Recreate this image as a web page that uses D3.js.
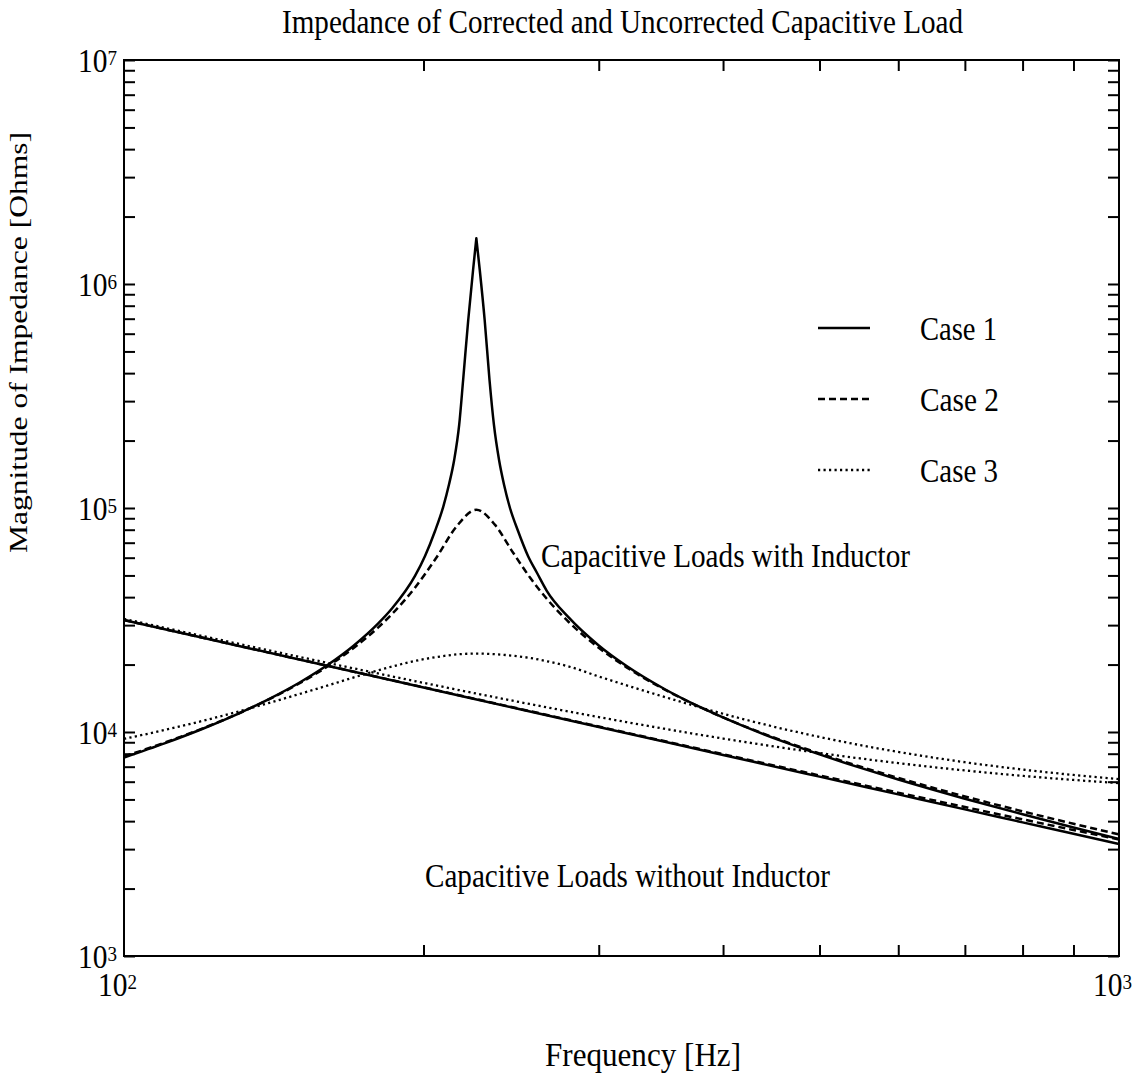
<!DOCTYPE html>
<html>
<head>
<meta charset="utf-8">
<script src="https://cdn.jsdelivr.net/npm/d3@7"></script>
<style>
  html, body { margin: 0; padding: 0; background: #fff; }
  svg { display: block; }
  text { font-family: "Liberation Serif", "Times New Roman", serif; fill: #000; }
</style>
</head>
<body>
<svg id="chart" width="1143" height="1086"></svg>
<script>
// ---------------- data ----------------
const freqCase1With = [100,110,120,130,140,150,160,170,180,186,196.1,200.7,205.4,209.3,212.2,214.7,217.2,219.2,221.8,224.3,226,227.8,230.4,233,235.4,238.2,241,244.3,248.9,254.7,260.1,266,280,300,320,350,380,420,460,500,550,600,700,800,900,1000];
const case1With = [7693,8918,10339,12020,14056,16587,19844,24222,30452,35660,49720,61070,78940,101000,128000,163800,234800,372800,690700,1154800,1600000,1154800,690700,372800,234800,163800,126700,100000,78940,61070,51270,42690,32380,24350,19700,15480,12870,10590,9055,7942,6912,6137,5039,4292,3747,3330];

const freqWith = [100,110,120,130,140,150,160,170,180,186,196,206,216,226,236,246,256,266,280,300,320,350,380,420,460,500,550,600,700,800,900,1000];
const case2With = [7772,8983,10382,12032,14019,16466,19573,23655,29243,33696,43990,59990,83020,98250,84040,63310,48800,39350,30906,23771,19436,15403,12860,10629,9117,8019,7001,6237,5156,4424,3894,3491];
const case3With = [9319,10220,11216,12310,13497,14767,16096,17500,18850,19600,20750,21600,22200,22400,22250,21900,21400,20700,19600,17700,16150,14300,12850,11390,10320,9505,8732,8147,7331,6798,6430,6165];

const freqWithout = [100,120,150,200,250,300,400,500,600,700,800,900,1000];
const case1Without = [31600,26333,21067,15800,12640,10533,7900,6320,5267,4514,3950,3511,3161];
const case2Without = [31616,26352,21091,15832,12680,10580,7963,6398,5361,4624,4074,3651,3315];
const case3Without = [31993,26804,21652,16572,13593,11660,9349,8059,7262,6736,6372,6110,5915];

const seriesNames = ["Case 1", "Case 2", "Case 3"];
const yDecades = [3, 4, 5, 6, 7];
const xDecades = [2, 3];
const titleText = "Impedance of Corrected and Uncorrected Capacitive Load";
const xLabelText = "Frequency [Hz]";
const yLabelText = "Magnitude of Impedance [Ohms]";
const noteWith = "Capacitive Loads with Inductor";
const noteWithout = "Capacitive Loads without Inductor";

// ---------------- layout ----------------
const L = 124, R = 1119, T = 60, B = 956;
const svg = d3.select("#chart");
const x = d3.scaleLog().domain([100, 1000]).range([L, R]);
const y = d3.scaleLog().domain([1e3, 1e7]).range([B, T]);

const styles = [
  { dash: null, width: 2.5 },
  { dash: "7,4", width: 2.5 },
  { dash: "2.2,3.3", width: 2.3 }
];

// minor + major tick values
const yTicks = [];
for (let d = 3; d < 7; d++) for (let k = 1; k <= 9; k++) yTicks.push(k * Math.pow(10, d));
yTicks.push(1e7);
const xTicks = d3.range(2, 10).map(k => k * 100);

const tickLen = 11;
function styleAxis(g) {
  g.select(".domain").remove();
  g.selectAll(".tick line").attr("stroke", "#000").attr("stroke-width", 2);
  g.selectAll(".tick text").remove();
}
svg.append("g").attr("transform", `translate(${L},0)`)
  .call(d3.axisLeft(y).tickValues(yTicks).tickSize(-tickLen).tickFormat(""))
  .call(styleAxis);
svg.append("g").attr("transform", `translate(${R},0)`)
  .call(d3.axisRight(y).tickValues(yTicks).tickSize(-tickLen).tickFormat(""))
  .call(styleAxis);
svg.append("g").attr("transform", `translate(0,${B})`)
  .call(d3.axisBottom(x).tickValues(xTicks).tickSize(-tickLen).tickFormat(""))
  .call(styleAxis);
svg.append("g").attr("transform", `translate(0,${T})`)
  .call(d3.axisTop(x).tickValues(xTicks).tickSize(-tickLen).tickFormat(""))
  .call(styleAxis);

// frame
svg.append("rect").attr("x", L).attr("y", T).attr("width", R - L).attr("height", B - T)
  .attr("fill", "none").attr("stroke", "#000").attr("stroke-width", 2);

// tick labels (10^n)
function powerLabel(x0, yBase, exp) {
  const t = svg.append("text").attr("x", x0).attr("y", yBase).attr("font-size", 34);
  t.append("tspan").text("10");
  t.append("tspan").attr("dy", -7.5).attr("font-size", 22).text(String(exp));
  const bb = t.node().getBBox();
  t.attr("transform", `translate(${x0},0) scale(${39 / bb.width},1) translate(${-x0},0)`);
}
yDecades.forEach(e => powerLabel(78, y(Math.pow(10, e)) + 12.5, e));
xDecades.forEach(e => powerLabel(x(Math.pow(10, e)) - 26, 996.5, e));

// curves
const line = (curve) => d3.line().x(d => x(d[0])).y(d => y(d[1])).curve(curve);
const withoutSeries = [case1Without, case2Without, case3Without];

function drawPath(points, curve, st) {
  svg.append("path")
    .attr("d", line(curve)(points))
    .attr("fill", "none").attr("stroke", "#000")
    .attr("stroke-width", st.width)
    .attr("stroke-dasharray", st.dash)
    .attr("stroke-linejoin", "round");
}

withoutSeries.forEach((vals, i) => {
  drawPath(freqWithout.map((f, j) => [f, vals[j]]), d3.curveMonotoneX, styles[i]);
});

// case 1 with inductor: smooth on each side of the sharp resonance peak
const c1 = freqCase1With.map((f, j) => [f, case1With[j]]);
const peakIdx = d3.maxIndex(case1With);
svg.append("path")
  .attr("d", line(d3.curveMonotoneX)(c1.slice(0, peakIdx + 1)) + line(d3.curveMonotoneX)(c1.slice(peakIdx)).replace(/^M/, "L"))
  .attr("fill", "none").attr("stroke", "#000").attr("stroke-width", styles[0].width)
  .attr("stroke-linejoin", "round");

drawPath(freqWith.map((f, j) => [f, case2With[j]]), d3.curveMonotoneX, styles[1]);
drawPath(freqWith.map((f, j) => [f, case3With[j]]), d3.curveMonotoneX, styles[2]);

// legend
const legendY = [328, 399, 470];
const legendW = [77, 79, 78];
seriesNames.forEach((name, i) => {
  svg.append("line").attr("x1", 818).attr("x2", 870).attr("y1", legendY[i]).attr("y2", legendY[i])
    .attr("stroke", "#000").attr("stroke-width", styles[i].width)
    .attr("stroke-dasharray", styles[i].dash);
  svg.append("text").attr("x", 920).attr("y", legendY[i] + 11.5).attr("font-size", 33)
    .attr("textLength", legendW[i]).attr("lengthAdjust", "spacingAndGlyphs").text(name);
});

// texts
svg.append("text").attr("x", 282).attr("y", 33).attr("font-size", 34)
  .attr("textLength", 681).attr("lengthAdjust", "spacingAndGlyphs").text(titleText);
svg.append("text").attr("x", 541).attr("y", 567).attr("font-size", 33)
  .attr("textLength", 369).attr("lengthAdjust", "spacingAndGlyphs").text(noteWith);
svg.append("text").attr("x", 425).attr("y", 887).attr("font-size", 33)
  .attr("textLength", 405).attr("lengthAdjust", "spacingAndGlyphs").text(noteWithout);
svg.append("text").attr("x", 545).attr("y", 1066).attr("font-size", 33)
  .attr("textLength", 196).attr("lengthAdjust", "spacingAndGlyphs").text(xLabelText);
svg.append("text").attr("transform", "translate(27,342) rotate(-90)")
  .attr("x", -211).attr("y", 0).attr("font-size", 26)
  .attr("textLength", 421).attr("lengthAdjust", "spacingAndGlyphs").text(yLabelText);
</script>
</body>
</html>
